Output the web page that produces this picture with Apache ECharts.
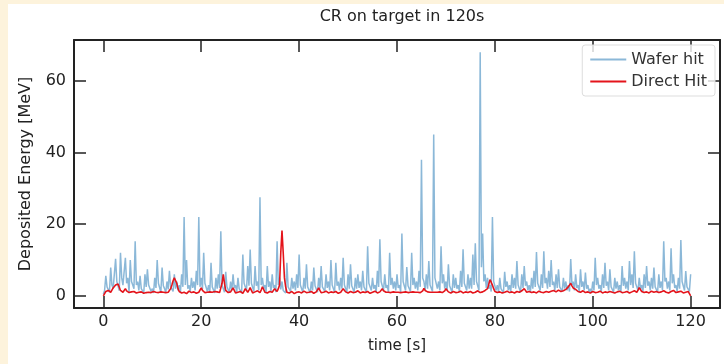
<!DOCTYPE html>
<html>
<head>
<meta charset="utf-8">
<script src="https://cdn.jsdelivr.net/npm/echarts@6/dist/echarts.min.js"></script>
<style>
  html, body { margin: 0; padding: 0; background: #fdf3dc; }
  #chart { width: 724px; height: 364px; }
</style>
</head>
<body>
<div id="chart"></div>
<script>
// samples every 0.25 s, t = 0 .. 120
// *On: value at t = k*0.5, *Mid: value at t = k*0.5 + 0.25
const sampleStep = 0.25;
const xTicks = [0, 20, 40, 60, 80, 100, 120];
const yTicks = [0, 20, 40, 60];

const waferHitOn = [
  0.5, 5.6, 3, 7.9, 2, 10.3, 4, 12, 3, 10.6,
  5, 10, 3, 15.2, 4, 5.6, 2, 6, 7.4, 3,
  2, 5, 10, 3, 7.9, 2, 4, 7, 3, 6,
  4, 3, 6, 22, 10, 3, 5, 4, 7, 22,
  5, 12, 4, 3, 9.2, 2, 5, 6, 18, 3,
  6.7, 3, 4, 6, 3, 5, 2, 11.5, 4, 8.3,
  12.9, 3, 8.3, 4, 27.5, 5, 3, 8.3, 4, 6,
  3, 15.2, 5, 4, 2, 9.2, 3, 5, 4, 6,
  11.5, 3, 5, 8.8, 2, 4, 7.9, 3, 5, 8.3,
  3, 6, 4, 10, 3, 9.2, 4, 5, 10.6, 3,
  6, 8.8, 3, 5, 6, 4, 7, 3, 13.8, 4,
  5, 3, 7, 15.8, 4, 6, 3, 12, 5, 4,
  6, 3, 17.4, 4, 8, 3, 12, 5, 4, 7,
  38, 4, 6, 9.7, 3, 45, 5, 4, 13.8, 6,
  4, 8.8, 3, 6, 5, 3, 7, 13, 4, 6,
  5, 11.5, 14.7, 4, 68, 17.4, 6, 5, 3, 22,
  4, 3, 5, 2, 6.7, 4, 3, 6, 5, 9.7,
  3, 6, 8.3, 4, 3, 5, 7, 12.2, 4, 6,
  12.4, 5, 7, 10, 4, 6, 7.4, 3, 5, 4,
  3, 10.3, 4, 6, 3, 7.4, 4, 6.5, 3, 2,
  4, 10.6, 5, 3, 6, 9.2, 4, 7.4, 3, 5,
  4, 3, 8.3, 5, 4, 9.7, 6, 12.4, 4, 5,
  3, 6, 8.3, 4, 5, 7.9, 3, 6, 4, 15.2,
  5, 4, 13.3, 6, 3, 5, 15.6, 4, 6.9, 3,
  6
];

const waferHitMid = [
  1.5, 2.5, 1.0, 3.0, 2.0, 4.0, 1.5, 5.0, 2.5, 3.5,
  1.0, 4.0, 2.0, 3.0, 1.5, 2.0, 0.8, 2.5, 3.0, 1.2,
  0.8, 2.2, 3.5, 1.0, 2.8, 0.9, 1.8, 2.5, 1.2, 2.0,
  1.5, 1.0, 2.5, 3.0, 2.0, 1.2, 2.2, 1.5, 3.0, 2.5,
  1.8, 3.5, 1.2, 1.0, 2.5, 0.8, 2.0, 2.2, 3.0, 1.0,
  2.5, 1.0, 1.5, 2.2, 1.0, 2.0, 0.8, 3.5, 1.5, 2.8,
  3.5, 1.2, 2.8, 1.5, 3.0, 2.0, 1.0, 2.5, 1.2, 2.2,
  1.0, 3.0, 1.8, 1.5, 0.8, 2.5, 1.2, 2.0, 1.5, 2.2,
  3.0, 1.0, 2.0, 2.5, 0.8, 1.5, 2.8, 1.0, 2.0, 2.5,
  1.2, 2.2, 1.5, 3.0, 1.0, 2.8, 1.5, 2.0, 3.0, 1.0,
  2.0, 2.8, 1.0, 2.0, 2.2, 1.5, 2.5, 1.0, 3.5, 1.5,
  2.0, 1.0, 2.5, 4.0, 1.5, 2.2, 1.0, 3.0, 2.0, 1.5,
  2.2, 1.0, 4.0, 1.5, 2.8, 1.2, 3.0, 2.0, 1.5, 2.5,
  5.0, 1.5, 2.0, 3.0, 1.2, 5.0, 2.0, 1.5, 3.5, 2.0,
  1.5, 2.8, 1.0, 2.2, 2.0, 1.2, 2.5, 3.5, 1.5, 2.0,
  2.0, 3.0, 4.0, 1.5, 8.0, 4.0, 2.2, 2.0, 1.2, 4.0,
  1.5, 1.0, 2.0, 0.8, 2.5, 1.5, 1.2, 2.2, 2.0, 3.0,
  1.0, 2.2, 2.8, 1.5, 1.0, 2.0, 2.5, 3.5, 1.5, 2.2,
  3.5, 2.0, 2.5, 3.0, 1.5, 2.2, 2.5, 1.2, 2.0, 1.5,
  1.2, 3.0, 1.5, 2.2, 1.0, 2.5, 1.5, 2.0, 1.0, 0.8,
  1.5, 3.0, 2.0, 1.2, 2.2, 2.8, 1.5, 2.5, 1.0, 2.0,
  1.5, 1.0, 2.8, 2.0, 1.5, 3.0, 2.2, 3.5, 1.5, 2.0,
  1.2, 2.2, 2.8, 1.5, 2.0, 2.5, 1.0, 2.2, 1.5, 4.0,
  2.0, 1.5, 3.5, 2.2, 1.2, 2.0, 4.0, 1.5, 2.5, 1.2
];

const directHitOn = [
  0, 1.2, 1.5, 1.0, 2.2, 3.0, 3.3, 1.5, 1.0, 2.0,
  1.2, 0.8, 1.5, 1.0, 0.7, 1.3, 0.9, 0.6, 1.1, 0.8,
  1.0, 1.4, 0.7, 1.2, 0.9, 1.1, 0.8, 1.2, 3.0, 5.0,
  3.5, 1.2, 0.8, 1.0, 0.6, 1.3, 0.9, 1.1, 0.7, 1.0,
  2.2, 1.0, 0.8, 1.2, 0.9, 1.0, 1.4, 0.8, 1.1, 6.0,
  1.5, 0.9, 1.1, 2.2, 0.8, 1.0, 1.2, 0.7, 2.0, 1.0,
  2.3, 0.8, 1.1, 1.4, 0.9, 2.5, 1.0, 0.8, 1.2, 1.0,
  2.0, 1.2, 3.0, 18.2, 5.0, 1.0, 0.8, 1.2, 0.6, 1.0,
  1.1, 0.8, 1.3, 0.9, 1.0, 1.2, 0.7, 1.1, 2.2, 0.9,
  1.0, 1.3, 0.8, 1.1, 0.9, 1.2, 0.7, 1.0, 2.0, 1.1,
  0.8, 1.2, 0.9, 1.0, 1.4, 0.8, 1.1, 0.9, 1.2, 0.7,
  1.0, 1.3, 0.8, 1.1, 2.0, 0.9, 1.2, 0.8, 1.0, 1.3,
  0.9, 1.1, 0.7, 1.2, 1.0, 0.8, 1.3, 0.9, 1.1, 1.0,
  0.8, 2.1, 1.0, 1.2, 0.9, 1.1, 0.8, 1.3, 1.0, 0.9,
  2.0, 1.1, 0.8, 1.2, 0.9, 1.0, 1.3, 0.8, 1.1, 0.9,
  1.2, 0.8, 1.0, 1.4, 0.9, 1.1, 1.5, 2.0, 4.5, 3.0,
  1.2, 0.9, 1.1, 0.8, 1.0, 1.3, 0.9, 1.1, 0.8, 1.2,
  1.0, 1.4, 2.0, 1.0, 1.2, 0.9, 1.1, 0.8, 1.3, 1.0,
  0.9, 1.2, 1.0, 1.3, 1.5, 1.1, 1.6, 1.2, 1.4, 1.8,
  2.5, 3.5, 2.2, 1.8, 1.2, 1.0, 1.4, 0.9, 1.1, 0.8,
  1.2, 0.9, 1.0, 1.3, 0.8, 1.1, 0.9, 1.2, 1.0, 0.8,
  1.1, 1.3, 0.9, 1.0, 1.2, 0.8, 1.1, 1.4, 1.0, 2.3,
  1.2, 0.9, 1.1, 0.8, 1.3, 1.0, 1.2, 0.9, 1.1, 1.4,
  1.0, 0.8, 1.2, 1.5, 0.9, 1.1, 1.3, 0.8, 1.0, 1.2,
  0
];

const directHitMid = [
  0.6, 1.4, 1.1, 1.6, 2.6, 3.2, 2.4, 1.2, 1.5, 1.4,
  0.9, 1.1, 1.2, 0.8, 1.0, 1.1, 0.7, 0.9, 1.0, 0.9,
  1.2, 1.0, 0.9, 1.1, 1.0, 0.9, 1.0, 2.0, 4.2, 4.5,
  2.0, 1.0, 0.9, 0.8, 0.9, 1.1, 1.0, 0.9, 0.8, 1.4,
  1.5, 0.9, 1.0, 1.1, 1.0, 1.2, 1.1, 0.9, 3.5, 3.5,
  1.2, 1.0, 1.6, 1.5, 0.9, 1.1, 1.0, 1.3, 1.5, 1.6,
  1.5, 0.9, 1.2, 1.1, 1.6, 1.8, 0.9, 1.0, 1.1, 1.5,
  1.6, 2.0, 12.0, 12.0, 2.5, 0.9, 1.0, 0.9, 0.8, 1.0,
  0.9, 1.1, 1.0, 1.0, 1.1, 0.9, 1.0, 1.6, 1.5, 1.0,
  1.1, 1.0, 0.9, 1.0, 1.0, 1.0, 0.8, 1.5, 1.5, 0.9,
  1.0, 1.0, 1.0, 1.2, 1.1, 0.9, 1.0, 1.1, 0.9, 0.8,
  1.1, 1.0, 0.9, 1.5, 1.4, 1.0, 1.0, 0.9, 1.1, 1.0,
  1.0, 0.9, 1.0, 1.1, 0.9, 1.0, 1.1, 1.0, 1.0, 0.9,
  1.4, 1.5, 1.1, 1.0, 1.0, 1.0, 1.0, 1.1, 0.9, 1.4,
  1.5, 0.9, 1.0, 1.0, 1.0, 1.1, 1.0, 0.9, 1.0, 1.0,
  1.0, 0.9, 1.2, 1.1, 1.0, 1.3, 1.8, 3.2, 3.8, 2.0,
  1.0, 1.0, 0.9, 0.9, 1.1, 1.1, 1.0, 0.9, 1.0, 1.1,
  1.2, 1.7, 1.5, 1.1, 1.0, 1.0, 0.9, 1.0, 1.1, 0.9,
  1.0, 1.1, 1.1, 1.4, 1.3, 1.4, 1.4, 1.3, 1.6, 2.2,
  3.0, 2.8, 2.0, 1.5, 1.1, 1.2, 1.1, 1.0, 0.9, 1.0,
  1.0, 0.9, 1.1, 1.0, 0.9, 1.0, 1.0, 1.1, 0.9, 0.9,
  1.2, 1.1, 0.9, 1.1, 1.0, 0.9, 1.2, 1.2, 1.6, 1.8,
  1.0, 1.0, 0.9, 1.0, 1.1, 1.1, 1.0, 1.0, 1.2, 1.2,
  0.9, 1.0, 1.3, 1.2, 1.0, 1.2, 1.0, 0.9, 1.1, 0.6
];

// merge the two phases into one [t, value] list
function toPoints(on, mid) {
  const pts = [];
  for (let k = 0; k < on.length; k++) {
    pts.push([2 * k * sampleStep, on[k]]);
    if (k < mid.length) pts.push([(2 * k + 1) * sampleStep, mid[k]]);
  }
  return pts;
}

const font = "DejaVu Sans";
const ink = "#222";

const chart = echarts.init(document.getElementById("chart"));

const axisCommon = {
  axisLine: { show: true, onZero: false, lineStyle: { color: ink, width: 2 } },
  axisTick: { show: true, inside: true, length: 12, lineStyle: { color: ink, width: 1.5 } },
  splitLine: { show: false },
};

const option = {
  backgroundColor: "#fdf3dc",
  animation: false,
  graphic: [
    {
      type: "rect",
      left: 8,
      top: 4,
      shape: { width: 716, height: 360 },
      style: { fill: "#ffffff" },
      z: -10,
    },
  ],
  title: {
    text: "CR on target in 120s",
    left: 397,
    top: 4,
    textAlign: "center",
    textStyle: { fontFamily: font, fontSize: 16, fontWeight: "normal", color: ink },
  },
  legend: {
    orient: "vertical",
    right: 9,
    top: 45,
    padding: [5, 8],
    itemGap: 3,
    itemWidth: 36,
    itemHeight: 2,
    icon: "rect",
    backgroundColor: "rgba(255,255,255,0.8)",
    borderColor: "#dddddd",
    borderWidth: 1,
    borderRadius: 3,
    textStyle: { fontFamily: font, fontSize: 16, color: "#333", lineHeight: 19 },
    data: ["Wafer hit", "Direct Hit"],
  },
  grid: { left: 74, right: 4, top: 40, bottom: 56 },
  xAxis: [
    {
      type: "value",
      min: -6,
      max: 126,
      position: "bottom",
      name: "time [s]",
      nameLocation: "middle",
      nameGap: 31,
      nameTextStyle: { fontFamily: font, fontSize: 15, color: ink },
      ...axisCommon,
      axisTick: { ...axisCommon.axisTick, customValues: xTicks },
      axisLabel: {
        customValues: xTicks,
        margin: 6,
        fontFamily: font,
        fontSize: 16,
        color: ink,
      },
    },
    {
      type: "value",
      min: -6,
      max: 126,
      position: "top",
      ...axisCommon,
      axisTick: { ...axisCommon.axisTick, customValues: xTicks },
      axisLabel: { show: false },
    },
  ],
  yAxis: [
    {
      type: "value",
      min: -3.4,
      max: 71.4,
      position: "left",
      name: "Deposited Energy [MeV]",
      nameLocation: "middle",
      nameGap: 40,
      nameTextStyle: { fontFamily: font, fontSize: 16, color: ink },
      ...axisCommon,
      axisTick: { ...axisCommon.axisTick, customValues: yTicks },
      axisLabel: {
        customValues: yTicks,
        margin: 8,
        fontFamily: font,
        fontSize: 16,
        color: ink,
      },
    },
    {
      type: "value",
      min: -3.4,
      max: 71.4,
      position: "right",
      ...axisCommon,
      axisTick: { ...axisCommon.axisTick, customValues: yTicks },
      axisLabel: { show: false },
    },
  ],
  series: [
    {
      name: "Wafer hit",
      type: "line",
      data: toPoints(waferHitOn, waferHitMid),
      showSymbol: false,
      color: "#8bb8d8",
      lineStyle: { width: 1.5, color: "#8bb8d8" },
      z: 2,
    },
    {
      name: "Direct Hit",
      type: "line",
      data: toPoints(directHitOn, directHitMid),
      showSymbol: false,
      color: "#e4141b",
      lineStyle: { width: 1.6, color: "#e4141b" },
      z: 3,
    },
  ],
};

chart.setOption(option);
</script>
</body>
</html>
